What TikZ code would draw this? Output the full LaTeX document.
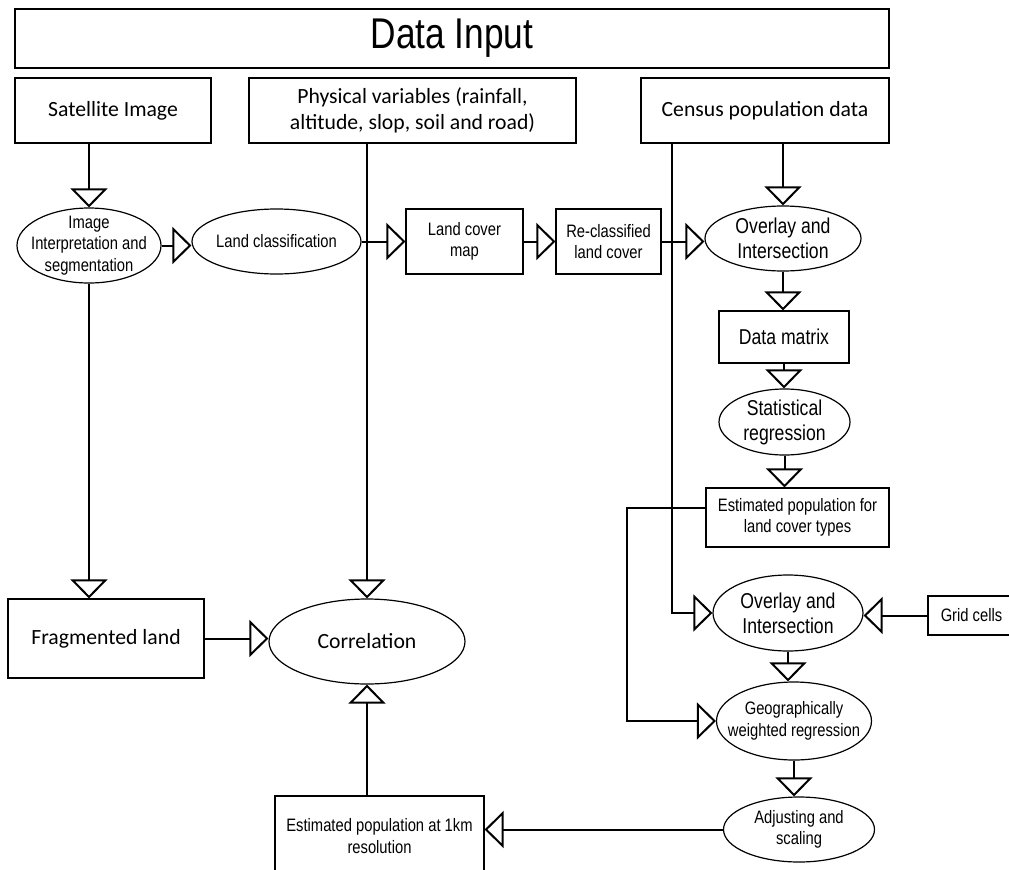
\documentclass[tikz,border=0pt]{standalone}
\usepackage{fontspec}
\usetikzlibrary{positioning,shapes.geometric,arrows.meta}
\newfontfamily\calibfont{Carlito}
\newfontfamily\narrowfont{Liberation Sans}[FakeStretch=0.82]
\newcommand{\smalltxt}{\narrowfont\fontsize{18bp}{21.5bp}\selectfont}
\newcommand{\midtxt}{\narrowfont\fontsize{21.5bp}{25bp}\selectfont}
\newcommand{\caltxt}{\calibfont\fontsize{21.7bp}{25.5bp}\selectfont}

\begin{document}
\begin{tikzpicture}[x=1bp, y=-1bp,
    block/.style={rectangle, draw, line width=1.2bp, inner sep=0pt, align=center, font=\smalltxt},
    oval/.style={ellipse, draw, line width=1.2bp, inner sep=-12bp, align=center, font=\smalltxt},
    arrow/.style={-{Triangle[open, length=19bp, width=37bp]}, line width=2bp}]

    \path[use as bounding box, fill=white] (0,0) rectangle (1009,870);

    % Data input
    \node[block, minimum width=874bp, minimum height=59bp, font=\narrowfont\fontsize{43bp}{48bp}\selectfont] (input) at (452,38.5) {Data Input};
    \node[block, minimum width=196bp, minimum height=65bp, font=\caltxt] (sat) at (113,110.5) {Satellite Image};
    \node[block, minimum width=327bp, minimum height=65bp, font=\caltxt] (phys) at (412.5,110.5) {Physical variables (rainfall,\\altitude, slop, soil and road)};
    \node[block, minimum width=248bp, minimum height=65bp, font=\caltxt] (census) at (765,110.5) {Census population data};

    % Land cover chain
    \node[oval, minimum width=144bp, minimum height=75bp] (img) at (89,245.5) {Image\\Interpretation and\\segmentation};
    \node[oval, minimum width=169bp, minimum height=65bp] (land) at (276.5,241.5) {Land classification};
    \node[block, minimum width=117bp, minimum height=65bp] (cover) at (464.5,241.5) {Land cover\\map};
    \node[block, minimum width=105bp, minimum height=65bp] (reclass) at (608.5,241.5) {Re-classified\\land cover};

    % Population chain
    \node[oval, minimum width=156bp, minimum height=65bp, font=\midtxt] (over1) at (783,238.5) {Overlay and\\Intersection};
    \node[block, minimum width=130bp, minimum height=52bp, font=\midtxt] (matrix) at (784,337) {Data matrix};
    \node[oval, minimum width=131bp, minimum height=66bp, font=\midtxt] (stat) at (784.5,422) {Statistical\\regression};
    \node[block, minimum width=183bp, minimum height=59bp] (estland) at (797.5,517.5) {Estimated population for\\land cover types};
    \node[oval, minimum width=150bp, minimum height=76bp, font=\midtxt] (over2) at (788,613) {Overlay and\\Intersection};
    \node[block, minimum width=87bp, minimum height=39bp] (grid) at (971.5,615.5) {Grid cells};
    \node[oval, minimum width=155bp, minimum height=78bp] (gwr) at (794,721) {Geographically\\weighted regression};
    \node[oval, minimum width=151bp, minimum height=65bp] (adjust) at (799,829.5) {Adjusting and\\scaling};
    \node[block, minimum width=209bp, minimum height=80bp] (estkm) at (379.5,836) {Estimated population at 1km\\resolution};

    % Correlation
    \node[block, minimum width=196bp, minimum height=79bp, font=\caltxt] (frag) at (106,638.5) {Fragmented land};
    \node[oval, minimum width=196bp, minimum height=85bp, font=\caltxt] (corr) at (367,641.5) {Correlation};

    % Connect components
    \draw[arrow] (img.north |- sat.south) -- (img.north);
    \draw[arrow] (img.east) -- (img.east -| land.west);
    \draw[arrow] (land.east) -- (cover.west);
    \draw[arrow] (cover.east) -- (reclass.west);
    \draw[arrow] (reclass.east) -- (reclass.east -| over1.west);
    \draw[arrow] (over1.north |- census.south) -- (over1.north);
    \draw[arrow] (over1.south) -- (over1.south |- matrix.north);
    \draw[arrow] (matrix.south) -- (matrix.south |- stat.north);
    \draw[arrow] (stat.south) -- (stat.south |- estland.north);
    \draw[arrow] ([xshift=32bp]census.south west) |- (over2.west);
    \draw[arrow] (grid.west) -- (grid.west -| over2.east);
    \draw[arrow] ([yshift=10bp]estland.west) -- ++(-78,0) |- (gwr.west);
    \draw[arrow] (over2.south) -- (over2.south |- gwr.north);
    \draw[arrow] (gwr.south) -- (gwr.south |- adjust.north);
    \draw[arrow] (adjust.west) -- (adjust.west -| estkm.east);
    \draw[arrow] (corr.south |- estkm.north) -- (corr.south);
    \draw[arrow] (img.south) -- (img.south |- frag.north);
    \draw[arrow] (frag.east) -- (frag.east -| corr.west);
    \draw[arrow] (corr.north |- phys.south) -- (corr.north);
\end{tikzpicture}
\end{document}
